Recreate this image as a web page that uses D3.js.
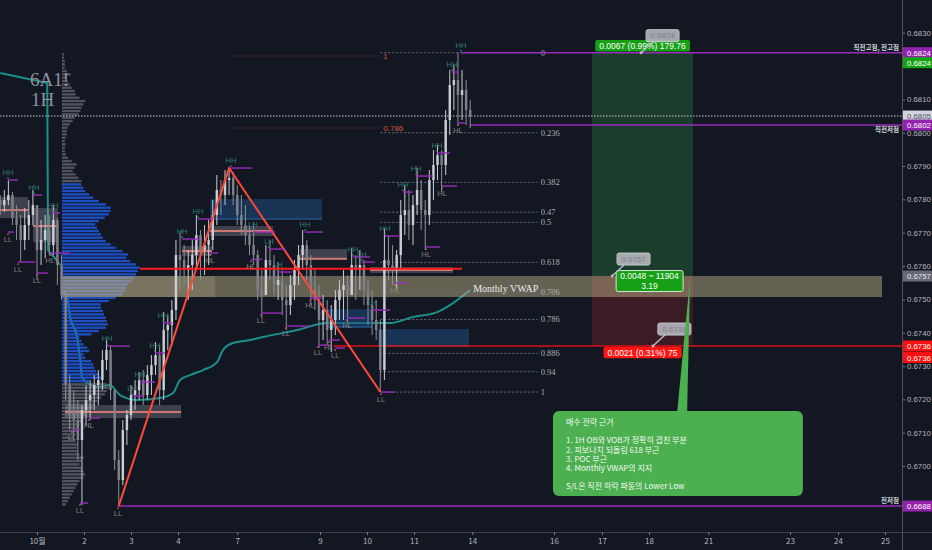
<!DOCTYPE html>
<html><head><meta charset="utf-8">
<script src="https://cdn.jsdelivr.net/npm/d3@7"></script>
<style>html,body{margin:0;padding:0;background:#131722;}svg{display:block;}</style>
</head><body>
<svg id="c" width="932" height="550"></svg>
<script>
// ---------------- DATA ----------------
const startHour = -18, barHours = 2, firstOpen = 0.67798;
const closes = [0.67783,0.67798,0.67813,0.67744,0.67723,0.67678,0.67723,0.67753,0.67783,0.67648,
0.67678,0.67708,0.67663,0.67738,0.67603,0.67513,0.67243,0.67168,0.67138,0.67078,
0.67168,0.67198,0.67213,0.67243,0.67258,0.67318,0.67348,0.67228,0.67018,0.66958,
0.67108,0.67153,0.67213,0.67228,0.67258,0.67213,0.67273,0.67303,0.67333,0.67228,
0.67408,0.67423,0.67468,0.67633,0.67618,0.67588,0.67603,0.67633,0.67693,0.67648,
0.67663,0.67678,0.67753,0.67828,0.67813,0.67858,0.67864,0.67813,0.67753,0.67723,
0.67693,0.67663,0.67633,0.67528,0.67513,0.67618,0.67603,0.67543,0.67558,0.67498,
0.67483,0.67543,0.67588,0.67633,0.67663,0.67603,0.67528,0.67498,0.67438,0.67468,
0.67408,0.67438,0.67498,0.67528,0.67543,0.67513,0.67603,0.67588,0.67603,0.67528,
0.67483,0.67438,0.67408,0.67288,0.67618,0.67603,0.67588,0.67633,0.67753,0.67768,
0.67723,0.67783,0.67828,0.67768,0.67753,0.67858,0.67903,0.67933,0.67903,0.68038,
0.68143,0.68158,0.68113,0.68128,0.68068,0.68050];
const highs = [0.67813,0.67828,0.67858,0.67822,0.67783,0.67753,0.67774,0.67798,0.67828,0.67783,
0.67738,0.67753,0.67753,0.67783,0.67744,0.67633,0.67513,0.67273,0.67228,0.67198,
0.67183,0.67243,0.67258,0.67273,0.67288,0.67348,0.67378,0.67363,0.67228,0.67048,
0.67138,0.67168,0.67243,0.67258,0.67282,0.67288,0.67303,0.67333,0.67372,0.67363,
0.67462,0.67453,0.67498,0.67678,0.67702,0.67663,0.67648,0.67678,0.67753,0.67708,
0.67723,0.67738,0.67798,0.67873,0.67858,0.67888,0.67894,0.67882,0.67843,0.67813,
0.67783,0.67723,0.67732,0.67648,0.67588,0.67663,0.67678,0.67633,0.67612,0.67588,
0.67543,0.67573,0.67618,0.67663,0.67708,0.67678,0.67633,0.67588,0.67543,0.67513,
0.67498,0.67483,0.67528,0.67558,0.67588,0.67573,0.67654,0.67633,0.67648,0.67618,
0.67558,0.67528,0.67498,0.67438,0.67714,0.67693,0.67663,0.67648,0.67798,0.67843,
0.67828,0.67813,0.67894,0.67858,0.67798,0.67888,0.67948,0.67963,0.67948,0.68068,
0.68188,0.68203,0.68240,0.68188,0.68158,0.68098];
const lows = [0.67753,0.67762,0.67783,0.67723,0.67678,0.67612,0.67648,0.67678,0.67723,0.67558,
0.67603,0.67624,0.67633,0.67633,0.67543,0.67498,0.67198,0.67108,0.67078,0.67018,
0.66883,0.67123,0.67138,0.67168,0.67183,0.67228,0.67288,0.67198,0.66988,0.66880,
0.66943,0.67063,0.67138,0.67168,0.67198,0.67183,0.67198,0.67213,0.67273,0.67183,
0.67198,0.67348,0.67363,0.67438,0.67528,0.67543,0.67498,0.67528,0.67588,0.67558,
0.67573,0.67603,0.67648,0.67723,0.67753,0.67783,0.67813,0.67783,0.67723,0.67693,
0.67663,0.67633,0.67603,0.67498,0.67444,0.67513,0.67558,0.67513,0.67498,0.67453,
0.67408,0.67453,0.67498,0.67543,0.67588,0.67558,0.67483,0.67468,0.67354,0.67378,
0.67363,0.67342,0.67393,0.67438,0.67438,0.67432,0.67513,0.67498,0.67528,0.67483,
0.67423,0.67393,0.67378,0.67222,0.67258,0.67558,0.67543,0.67528,0.67588,0.67693,
0.67678,0.67663,0.67753,0.67708,0.67648,0.67723,0.67798,0.67858,0.67822,0.67873,
0.67993,0.68068,0.68023,0.68038,0.68023,0.68014];

const dayTicks = [["10월",0],["2",23],["3",46],["4",69],["7",98],["9",138.5],["10",161.5],["11",184.5],["14",213],["16",253],["17",276.5],["18",299.5],["21",328.5],["23",368.5],["24",392],["25",415]];
const priceTicks = [0.669,0.670,0.671,0.672,0.673,0.674,0.675,0.676,0.677,0.678,0.679,0.680,0.681,0.682,0.683];

// volume profile (0.0001 bins from 0.6688)
const profileBase = 0.6688, profileStep = 0.0001, profileStartHour = 12.2, vaLow = 0.6725, vaHigh = 0.6785;
const profileVol = [4,6,8,10,12,14,16,18,22,24, 22,20,18,20,22,18,16,15,16,14, 12,14,16,15,18,20,22,24,28,32,
 34,36,40,44,46,48,46,28,40,38, 35,33,32,30,24,22,28,26,22,20, 18,30,38,45,47,46,45,43,42,40,
 40,48,55,62,65,66,68,72,74,76, 78,80,76,70,66,68,62,55,50,45, 42,40,38,36,34,38,44,48,50,50,
 45,38,32,28,24,22,20,20,17,14, 11,13,15,10,6,4,3,3,4,3, 4,5,5,6,8,11,13,17,19,20,
 22,24,18,14,13,10,8,6,5,9, 5,3,3,3,2,2];

// VWAP
const vwapPrevHours = [-18,5,5.4,10.3,11.3];
const vwapPrevVals = [0.68179,0.68149,0.67648,0.67612,0.67603];
const vwapHours = [12.2,14.7,16.2,19.6,21,22,24.5,30.8,35.7,40.6,49,60.2,66.6,70,74.9,81.3,88.1,91,95.9,104.3,110.6,127.3,142,158,172.8,184,195.8,203.6,212];
const vwapVals = [0.67528,0.67507,0.67447,0.67387,0.67327,0.67267,0.67249,0.67237,0.67243,0.67213,0.67198,0.67204,0.67219,0.67258,0.67273,0.67288,0.67312,0.67348,0.67369,0.67378,0.67387,0.67408,0.67429,0.67429,0.67429,0.67447,0.67462,0.67489,0.67528];

// fibonacci
const fibLevels = [0,0.236,0.382,0.47,0.5,0.618,0.706,0.786,0.886,0.94,1];
const fibHigh = 0.6824, fibLow = 0.67222, fibStartHour = 168, fibEndHour = 245;
const redFibLabels = ["1","0.786"];
const redFibPrices = [0.68230,0.68014];
const redFibHours = [94,168];

// zigzag swing points
const zigHours = [40,94,168];
const zigPrices = [0.66880,0.67894,0.67222];

// swing labels: [hour, price, type, endHour]
const swings = [
 [-14.2,0.67858,"HH",-9.3],[-1.5,0.67813,"HH",2.4],[7.8,0.67759,"HH",11.3],[-14.2,0.67702,"LL",-11.2],
 [-9.3,0.67612,"LL",-1.0],[0,0.67579,"LL",5.4],[6.4,0.67639,"HL",16.1],[17.1,0.67108,"LL",21.0],
 [25.4,0.67144,"HL",30.8],[21.0,0.66889,"LL",25.0],[34.3,0.67360,"HH",45.5],[39.6,0.66880,"LL",39.6],
 [46.5,0.67210,"LH",51.9],[50.4,0.67252,"HH",57.7],[57.7,0.67339,"HH",62.6],[61.7,0.67429,"HH",66.1],
 [71.0,0.67681,"HH",79.8],[78.8,0.67741,"HH",85.6],[84.7,0.67639,"HL",88.6],[94.9,0.67894,"HH",105.2],
 [105.7,0.67702,"LH",116.5],[104.7,0.67620,"HL",110.1],[109.6,0.67459,"LL",119.9],[113.5,0.67651,"LH",121.4],
 [117.9,0.67582,"LH",124.8],[121.8,0.67420,"LL",133.6],[131.1,0.67702,"HH",140.0],[133.6,0.67504,"HL",139.5],
 [137.5,0.67363,"LL",143.4],[142.8,0.67378,"HL",148.3],[145.9,0.67354,"LL",150.7],[154.6,0.67627,"HH",163.0],
 [159.0,0.67612,"LH",165.4],[151.7,0.67444,"HL",160.5],[163.9,0.67468,"LH",172.7],[168.3,0.67222,"LL",175.2],
 [170.3,0.67690,"HH",177.6],[175.2,0.67549,"HL",181.1],[179.1,0.67822,"HH",184.0],[185.5,0.67870,"HH",193.8],
 [190.4,0.67657,"HL",197.2],[195.7,0.67939,"HH",202.1],[198.2,0.67840,"HL",205.5],[203.1,0.68182,"HH",206.0],
 [207.5,0.68240,"HH",207.5],[206.0,0.68029,"HL",209.4]
];

// zones: [h0, h1, pLow, pHigh]
const vwapZone = [12.2,413.5,0.67507,0.67570];
const vwapZoneInner = [12.2,87,0.67507,0.67570];
const blueBoxes = [[84.7,139.5,0.67741,0.67801],[141.9,163.9,0.67417,0.67471],[166.9,211.4,0.67360,0.67411]];
const grayBoxes = [[-18.1,-4.4,0.67744,0.67807,0.67768],[-2,10.3,0.67672,0.67774,0.67720],[13.7,70.5,0.67144,0.67183,0.67162],
 [84.7,115.5,0.67690,0.67720,0.67705],[71,85.6,0.67630,0.67660,0.67645],[128.7,151.7,0.67618,0.67651,0.67622],[163,203.6,0.67579,0.67597,0.67588]];

// horizontal levels
const pocPrice = 0.67592, pocHours = [50.4,208];
const lastPrice = 0.6805;
const purpleLevels = [[0.6824,207.5],[0.68023,212],[0.6688,39.6]];
const stopLevel = [0.6736,145];
const levelNotes = [["직전고점, 전고점",0.6824,-2.5],["직전저점",0.68023,7],["전저점",0.6688,-3]];

// long position tool
const posHours = [271.6,321], posEntry = 0.6757, posTarget = 0.6824, posStop = 0.6736;
const posTargetText = "0.0067 (0.99%) 179.76";
const posMidText = ["0.0048 ~ 11904","3.19"];
const posStopText = "0.0021 (0.31%) 75";
const priceNotes = [[295.6,0.6824,"0.6824"],[281.4,0.6757,"0.6757"],[301.4,0.6736,"0.6736"]];

// callout
const noteLines = ["매수 전략 근거","","1. 1H OB와 VOB가 정확히 겹친 부분","2. 피보나치 되돌림 618 부근","3. POC 부근","4. Monthly VWAP의 지지","","S/L은 직전 하락 파동의 Lower Low"];
const noteBox = [252.5,374.8,0.66910,0.67165];
const noteTip = [319.6,0.67565];

// axis tags
const axisTags = [
 [0.6824,"0.6824","#9423ad","#ffffff",0],[0.6824,"0.6824","#14a514","#ffffff",10],
 [0.6805,"0.6805","#d1d4dc","#50535e",0],[0.68023,"0.6802","#9423ad","#ffffff",0],
 [0.6757,"0.6757","#666975","#e6e8ee",0],[0.6736,"0.6736","#ff1010","#ffffff",0],
 [0.6736,"0.6736","#ff1010","#ffffff",11.5],[0.6688,"0.6688","#9423ad","#ffffff",0]
];

// ---------------- DRAW ----------------
const W=932,H=550,plotR=902,plotB=532;
const SANS="Liberation Sans, Arial, sans-serif", SERIF="Liberation Serif, Times New Roman, serif", KR="Noto Sans CJK KR, sans-serif";
const x = d3.scaleLinear().domain([0,23]).range([37,84]);
const y = d3.scaleLinear().domain([0.6690,0.6830]).range([499.4,32.7]);
const svg = d3.select("#c");
svg.append("rect").attr("width",W).attr("height",H).attr("fill","#131722");
svg.append("defs").append("clipPath").attr("id","plot").append("rect").attr("width",plotR).attr("height",plotB);
const g = svg.append("g").attr("clip-path","url(#plot)");
const box = (sel,b,fill,op)=>sel.append("rect").attr("x",x(b[0])).attr("width",x(b[1])-x(b[0]))
  .attr("y",y(b[3])).attr("height",y(b[2])-y(b[3])).attr("fill",fill).attr("opacity",op);

// VWAP lines
const vline = d3.line().x(d=>x(d[0])).y(d=>y(d[1])).curve(d3.curveMonotoneX);
g.append("path").attr("d",d3.line().x(d=>x(d[0])).y(d=>y(d[1]))(vwapPrevHours.map((h,i)=>[h,vwapPrevVals[i]])))
 .attr("fill","none").attr("stroke","#1b8f8c").attr("stroke-width",2);
g.append("path").attr("d",vline(vwapHours.map((h,i)=>[h,vwapVals[i]])))
 .attr("fill","none").attr("stroke","#1b8f8c").attr("stroke-width",2);

// volume profile
const vx = d3.scaleLinear().domain([0,80]).range([0,78]);
const binH = y(profileBase)-y(profileBase+profileStep);
g.append("g").selectAll("rect").data(profileVol).join("rect")
 .attr("x",x(profileStartHour)).attr("y",(v,i)=>y(profileBase+(i+1)*profileStep)+0.5)
 .attr("width",v=>vx(v)).attr("height",binH-1)
 .attr("fill",(v,i)=>{const p=profileBase+i*profileStep+1e-7;return (p>=vaLow&&p<vaHigh)?"#1f56d8":"#5a5d68";})
 .attr("opacity",0.88);

// position tool
box(g,[posHours[0],posHours[1],posEntry,posTarget],"#1b3d2b",1);
box(g,[posHours[0],posHours[1],posStop,posEntry],"#3b1b24",1);

// zones
box(g,vwapZone,"#c2b48a",0.48);
box(g,vwapZoneInner,"#c8bd98",0.2);
blueBoxes.forEach(b=>{box(g,b,"#1f4b7d",0.55);
  g.append("line").attr("x1",x(b[0])).attr("x2",x(b[1])).attr("y1",y(b[2])).attr("y2",y(b[2])).attr("stroke","#2c6aa8").attr("stroke-width",1);});
grayBoxes.forEach(b=>{box(g,b,"#9a9ca4",0.33);
  g.append("line").attr("x1",x(b[0])).attr("x2",x(b[1])).attr("y1",y(b[4])).attr("y2",y(b[4])).attr("stroke","#e5837a").attr("stroke-width",2).attr("opacity",0.85);});

// fib
const fibG = g.append("g");
fibLevels.forEach(l=>{const p=fibHigh-l*(fibHigh-fibLow);
  fibG.append("line").attr("x1",x(fibStartHour)).attr("x2",x(fibEndHour)).attr("y1",y(p)).attr("y2",y(p))
   .attr("stroke","#6b6e79").attr("stroke-dasharray","2,2").attr("stroke-width",1);
  fibG.append("text").attr("x",x(fibEndHour)+3).attr("y",y(p)+3).text(String(l))
   .attr("font-family",SERIF).attr("font-size",8.5).attr("fill","#a9acb5");});
redFibPrices.forEach((p,i)=>{
  fibG.append("line").attr("x1",x(redFibHours[0])).attr("x2",x(redFibHours[1])).attr("y1",y(p)).attr("y2",y(p))
   .attr("stroke","#6e2a35").attr("stroke-dasharray","2,2").attr("stroke-width",1);
  fibG.append("text").attr("x",x(redFibHours[1])+3).attr("y",y(p)+3).text(redFibLabels[i])
   .attr("font-family",SANS).attr("font-size",8).attr("fill","#d2573f");});

// horizontal levels
g.append("line").attr("x1",0).attr("x2",plotR).attr("y1",y(lastPrice)).attr("y2",y(lastPrice))
 .attr("stroke","#c9ccd4").attr("stroke-dasharray","1.5,1.5").attr("stroke-width",1);
purpleLevels.forEach(l=>g.append("line").attr("x1",x(l[1])).attr("x2",plotR).attr("y1",y(l[0])).attr("y2",y(l[0]))
 .attr("stroke","#9a2bbd").attr("stroke-width",1.6));
g.append("line").attr("x1",x(stopLevel[1])).attr("x2",plotR).attr("y1",y(stopLevel[0])).attr("y2",y(stopLevel[0]))
 .attr("stroke","#d8101a").attr("stroke-width",1.5);

// candles
const candles = closes.map((c,i)=>({h:startHour+i*barHours,o:i?closes[i-1]:firstOpen,c,hi:highs[i],lo:lows[i]}));
const bw = (x(barHours)-x(0))*0.6;
const cg = g.append("g");
cg.selectAll("line").data(candles).join("line")
 .attr("x1",d=>x(d.h)).attr("x2",d=>x(d.h)).attr("y1",d=>y(d.hi)).attr("y2",d=>y(d.lo))
 .attr("stroke",d=>d.c>=d.o?"#c9ccd3":"#8d9099").attr("stroke-width",1);
cg.selectAll("rect").data(candles).join("rect")
 .attr("x",d=>x(d.h)-bw/2).attr("width",bw)
 .attr("y",d=>y(Math.max(d.o,d.c))).attr("height",d=>Math.max(1,Math.abs(y(d.o)-y(d.c))))
 .attr("fill",d=>d.c>=d.o?"#c9ccd3":"#7e818a");

// POC line
g.append("line").attr("x1",x(pocHours[0])).attr("x2",x(pocHours[1])).attr("y1",y(pocPrice)).attr("y2",y(pocPrice))
 .attr("stroke","#ff1a1a").attr("stroke-width",2);

// zigzag
g.append("path").attr("d",d3.line().x(d=>x(d[0])).y(d=>y(d[1]))(zigHours.map((h,i)=>[h,zigPrices[i]])))
 .attr("fill","none").attr("stroke","#ff4a3a").attr("stroke-width",2);

// swings
const sg = g.append("g");
swings.forEach(s=>{
  const up = s[2]==="HH"||s[2]==="LH";
  if (s[3]>s[0]) sg.append("line").attr("x1",x(s[0])).attr("x2",x(s[3])).attr("y1",y(s[1])).attr("y2",y(s[1]))
    .attr("stroke","#9a2bbd").attr("stroke-width",1.4);
  sg.append("circle").attr("cx",x(s[0])).attr("cy",y(s[1])+(up?-2:2)).attr("r",0.9).attr("fill",up?"#2b8a7e":"#b06a5a");
  sg.append("text").attr("x",x(s[0])).attr("y",y(s[1])+(up?-5:10)).attr("text-anchor","middle").text(s[2])
    .attr("font-family",SANS).attr("font-size",7.5).attr("fill",up?"#2e7d72":"#8c7c77");
});

// Monthly VWAP label
g.append("text").attr("x",x(vwapHours[vwapHours.length-1])+3).attr("y",y(vwapVals[vwapVals.length-1])+2)
 .text("Monthly VWAP").attr("font-family",SERIF).attr("font-size",10).attr("fill","#e8e8ea");

// position labels
const pcx = (x(posHours[0])+x(posHours[1]))/2;
function tag(cx,cy,lines,fill,stroke){
  const gg = g.append("g");
  const t = gg.append("text").attr("text-anchor","middle").attr("font-family",SANS).attr("font-size",8.5).attr("fill","#ffffff");
  lines.forEach((l,i)=>t.append("tspan").attr("x",cx).attr("y",cy+3+(i-(lines.length-1)/2)*9.5).text(l));
  const bb = t.node().getBBox();
  gg.insert("rect","text").attr("x",bb.x-4).attr("y",cy-(lines.length*9.5+2)/2).attr("width",bb.width+8)
    .attr("height",lines.length*9.5+2).attr("rx",2).attr("fill",fill).attr("stroke",stroke||"none").attr("stroke-width",1);
}
tag(pcx,y(posTarget)-7,[posTargetText],"#15a015");
tag(pcx+7,y(posEntry)+5,posMidText,"#15a015","#d8e8d8");
tag(pcx,y(posStop)+6.5,[posStopText],"#ff1414");

// price notes
priceNotes.forEach(n=>{
  const ax=x(n[0]), ay=y(n[1]);
  g.append("line").attr("x1",ax).attr("y1",ay).attr("x2",ax+12).attr("y2",ay-11).attr("stroke","#b9bbc2").attr("stroke-width",1.5);
  g.append("circle").attr("cx",ax).attr("cy",ay).attr("r",1.5).attr("fill","#b9bbc2");
  g.append("rect").attr("x",ax+5).attr("y",ay-23).attr("width",33).attr("height",12).attr("rx",2)
    .attr("fill","#b4b6bd").attr("opacity",0.9).attr("stroke","#d5d7dc");
  g.append("text").attr("x",ax+21.5).attr("y",ay-14.3).attr("text-anchor","middle").text(n[2])
    .attr("font-family",SANS).attr("font-size",8).attr("fill","#7e818b");
});

// callout
const nb = {x0:x(noteBox[0]),x1:x(noteBox[1]),yT:y(noteBox[3]),yB:y(noteBox[2])};
const tipX = x(noteTip[0]), tipY = y(noteTip[1]);
g.append("path").attr("d",`M${tipX-13},${nb.yT+2}L${tipX},${tipY}L${tipX-3},${nb.yT+2}Z`).attr("fill","#4caf50");
g.append("rect").attr("x",nb.x0).attr("y",nb.yT).attr("width",nb.x1-nb.x0).attr("height",nb.yB-nb.yT).attr("rx",6).attr("fill","#4caf50");
const nt = g.append("text").attr("font-family",KR).attr("font-size",8).attr("fill","#f2fbf2");
noteLines.forEach((l,i)=>nt.append("tspan").attr("x",nb.x0+13).attr("y",nb.yT+14+i*9.2).text(l));

// title
svg.append("text").attr("x",30).attr("y",86).text("6A1!").attr("font-family",SERIF).attr("font-size",19).attr("fill","#8f939c");
svg.append("text").attr("x",31).attr("y",106).text("1H").attr("font-family",SERIF).attr("font-size",19).attr("fill","#8f939c");

// level notes
levelNotes.forEach(n=>svg.append("text").attr("x",899).attr("y",y(n[1])+n[2]).attr("text-anchor","end").text(n[0])
  .attr("font-family",KR).attr("font-size",6.5).attr("font-weight","bold").attr("fill","#d1d4dc"));

// axes (hide tick labels covered by tags)
const tagYs = axisTags.map(t=>y(t[0])+t[4]);
const visTicks = priceTicks.filter(p=>tagYs.every(ty=>Math.abs(ty-y(p))>7.5));
const ay = svg.append("g").attr("transform",`translate(${plotR},0)`)
 .call(d3.axisRight(y).tickValues(visTicks).tickSize(3).tickPadding(2).tickFormat(d3.format(".4f")));
ay.select(".domain").remove();
ay.selectAll("line").attr("stroke","#787b86");
ay.selectAll("text").attr("font-family",SANS).attr("font-size",7.8).attr("fill","#b2b5be");
svg.append("line").attr("x1",plotR+0.5).attr("x2",plotR+0.5).attr("y1",0).attr("y2",H).attr("stroke","#50535e");
svg.append("line").attr("x1",0).attr("x2",W).attr("y1",plotB+0.5).attr("y2",plotB+0.5).attr("stroke","#3a3e4a");
const axb = svg.append("g").attr("transform",`translate(0,${plotB})`)
 .call(d3.axisBottom(x).tickValues(dayTicks.map(d=>d[1])).tickFormat((d,i)=>dayTicks[i][0]).tickSize(3).tickPadding(3));
axb.select(".domain").remove();
axb.selectAll("line").attr("stroke","#787b86");
axb.selectAll("text").attr("font-family",KR).attr("font-size",8).attr("fill","#b2b5be");

// axis tags
axisTags.forEach(t=>{const cy=y(t[0])+t[4];
  svg.append("rect").attr("x",plotR+1).attr("y",cy-5.5).attr("width",W-plotR-1).attr("height",11).attr("fill",t[2]);
  svg.append("text").attr("x",plotR+5).attr("y",cy+3).text(t[1]).attr("font-family",SANS).attr("font-size",7.8).attr("fill",t[3]);
});
</script>
</body></html>
